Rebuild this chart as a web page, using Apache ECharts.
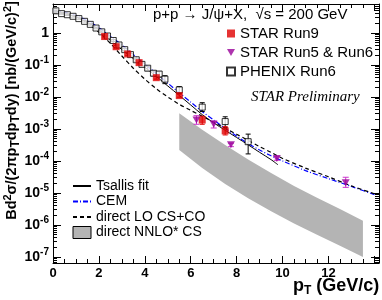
<!DOCTYPE html>
<html><head><meta charset="utf-8">
<script src="https://cdn.jsdelivr.net/npm/echarts@6/dist/echarts.min.js"></script>
<style>html,body{margin:0;padding:0;background:#fff}#c{width:382px;height:300px}</style>
</head><body><div id="c"></div>
<script>
// ---- data ----
const xTicks = [0, 2, 4, 6, 8, 10, 12];
const yTickExps = [0, -1, -2, -3, -4, -5, -6, -7];

const star9Pt = [2.25, 2.75, 3.25, 3.75, 4.5, 5.5, 6.5, 7.5];
const star9Val = [0.77, 0.37, 0.22, 0.118, 0.040, 0.011, 0.0019, 0.00087];
const star9Lo = [0.70, 0.335, 0.20, 0.107, 0.036, 0.0098, 0.0014, 0.00065];
const star9Hi = [0.84, 0.405, 0.24, 0.129, 0.044, 0.0122, 0.0025, 0.00118];

const star56Pt = [6.25, 7.0, 7.75, 9.75, 12.75];
const star56Val = [0.0019, 0.0014, 0.00032, 0.00012, 0.000021];
const star56Lo = [0.0014, 0.00107, 0.00028, 0.000105, 0.000015];
const star56Hi = [0.0026, 0.00178, 0.00036, 0.000135, 0.000031];

const phenixPt = [0.125, 0.375, 0.625, 0.875, 1.125, 1.375, 1.625, 1.875, 2.125, 2.375, 2.625, 2.875,
  3.125, 3.375, 3.625, 3.875, 4.125, 4.375, 4.625, 4.875, 5.5, 6.5, 7.5, 8.5];
const phenixVal = [4.9, 4.0, 3.7, 3.3, 2.8, 2.3, 1.85, 1.42, 1.08, 0.80, 0.58, 0.42,
  0.30, 0.21, 0.145, 0.104, 0.079, 0.055, 0.052, 0.036, 0.0166, 0.0048, 0.0017, 0.0004];
const phenixLo = [4.6, 3.8, 3.5, 3.1, 2.65, 2.18, 1.75, 1.34, 1.01, 0.75, 0.54, 0.39,
  0.275, 0.19, 0.13, 0.092, 0.068, 0.046, 0.042, 0.026, 0.013, 0.0035, 0.0011, 0.000166];
const phenixHi = [5.2, 4.2, 3.9, 3.5, 2.95, 2.42, 1.95, 1.50, 1.15, 0.85, 0.62, 0.45,
  0.325, 0.23, 0.16, 0.116, 0.09, 0.064, 0.062, 0.046, 0.021, 0.0066, 0.0024, 0.00069];

const tsallisPt = [0, 0.5, 1, 1.5, 2, 2.5, 3, 3.5, 4, 4.5, 5, 5.5, 6, 6.5, 7, 7.5, 8, 8.5, 9, 9.5, 9.8];
const tsallisVal = [4.37, 3.98, 3.16, 2.19, 1.26, 0.60, 0.30, 0.158, 0.085, 0.044, 0.022, 0.0112,
  0.0056, 0.0028, 0.00155, 0.00091, 0.00054, 0.00032, 0.000186, 0.00011, 0.000076];

const cemPt = [0, 0.5, 1, 1.5, 2, 2.5, 3, 3.5, 4, 4.5, 5, 5.5, 6, 6.5, 7, 7.5, 8, 8.5, 9, 9.5, 10, 11, 12, 13, 14];
const cemVal = [4.79, 4.37, 3.47, 2.40, 1.45, 0.79, 0.42, 0.21, 0.105, 0.054, 0.027, 0.0135, 0.0069,
  0.0035, 0.0019, 0.00105, 0.0006, 0.00035, 0.00022, 0.000145, 0.0001, 5.0e-5, 2.8e-5, 1.6e-5, 8.9e-6];

const loPt = [0, 0.5, 1, 1.5, 2, 2.5, 3, 3.5, 4, 4.5, 5, 5.5, 6, 6.5, 7, 7.5, 8, 8.5, 9, 9.5, 10, 11, 12, 13, 14];
const loVal = [4.57, 4.17, 3.16, 2.0, 1.05, 0.47, 0.19, 0.079, 0.036, 0.018, 0.01, 0.0059, 0.0038,
  0.0025, 0.00162, 0.00105, 0.00068, 0.00044, 0.00028, 0.000186, 0.00012, 6.0e-5, 3.2e-5, 1.66e-5, 9.5e-6];

const nnloPt = [5.5, 6.5, 7.5, 8.5, 9.5, 10.5, 11.5, 12.5, 13.5];
const nnloHi = [3.1e-3, 9.5e-4, 3.16e-4, 1.12e-4, 4.2e-5, 1.66e-5, 7.1e-6, 3.16e-6, 1.35e-6];
const nnloLo = [2.2e-4, 6.0e-5, 1.9e-5, 6.9e-6, 2.7e-6, 1.12e-6, 5.0e-7, 2.24e-7, 1.0e-7];

// ---- build chart ----
const FONT = 'Liberation Sans, Arial, Helvetica, sans-serif';
const zip = (a, b) => a.map((v, i) => [v, b[i]]);
const zip3 = (a, b, c) => a.map((v, i) => [v, b[i], c[i]]);

function errBars(color, cap) {
  return function (params, api) {
    const x = api.value(0), lo = api.value(1), hi = api.value(2);
    const p1 = api.coord([x, lo]), p2 = api.coord([x, hi]);
    const st = { stroke: color, lineWidth: 1 };
    return {
      type: 'group', children: [
        { type: 'line', shape: { x1: p1[0], y1: p1[1], x2: p2[0], y2: p2[1] }, style: st },
        { type: 'line', shape: { x1: p1[0] - cap, y1: p1[1], x2: p1[0] + cap, y2: p1[1] }, style: st },
        { type: 'line', shape: { x1: p2[0] - cap, y1: p2[1], x2: p2[0] + cap, y2: p2[1] }, style: st }
      ]
    };
  };
}

const yMin = 6.5e-8, yMax = 8, xMin = 0, xMax = 14.2;

function yLabel(v) {
  const e = Math.log10(v);
  const r = Math.round(e);
  if (Math.abs(e - r) > 1e-6 || yTickExps.indexOf(r) < 0) return '';
  if (r === 0) return '{b|1}';
  return '{b|10}{s|' + r + '}';
}
function xLabel(v) {
  return xTicks.indexOf(v) >= 0 ? String(v) : '';
}

const tickStyle = { color: '#000', width: 1 };
const baseX = {
  type: 'value', min: xMin, max: xMax, interval: 2,
  axisLine: { show: true, onZero: false, lineStyle: tickStyle },
  axisTick: { show: true, inside: true, length: 7, lineStyle: tickStyle },
  minorTick: { show: true, splitNumber: 4, length: 4, lineStyle: tickStyle },
  splitLine: { show: false }
};
const baseY = {
  type: 'log', logBase: 10, min: yMin, max: yMax,
  axisLine: { show: true, onZero: false, lineStyle: tickStyle },
  axisTick: { show: true, inside: true, length: 8, lineStyle: tickStyle },
  minorTick: { show: true, splitNumber: 9, length: 4, lineStyle: tickStyle },
  splitLine: { show: false }
};
const hideSym = { opacity: 0 };

const chart = echarts.init(document.getElementById('c'), null, { renderer: 'canvas' });
chart.setOption({
  animation: false,
  backgroundColor: '#fff',
  grid: { left: 53, right: 3, top: 4, bottom: 37, containLabel: false, outerBoundsMode: 'none' },
  xAxis: [
    Object.assign({}, baseX, {
      position: 'bottom',
      axisLabel: { show: true, formatter: xLabel, color: '#000', fontSize: 13, fontWeight: 'bold', fontFamily: FONT, margin: 4 },
      name: '{p|p}{t|T}{p| (GeV/c)}', nameLocation: 'end', nameGap: -86, nameMoveOverlap: false,
      nameTextStyle: {
        align: 'left', verticalAlign: 'top', padding: [13, 0, 0, 0],
        rich: {
          p: { fontSize: 18, fontWeight: 'bold', fontFamily: FONT, color: '#000' },
          t: { fontSize: 12, fontWeight: 'bold', fontFamily: FONT, color: '#000', padding: [9, 0, 0, 0] }
        }
      }
    }),
    Object.assign({}, baseX, { position: 'top', axisLabel: { show: false } })
  ],
  yAxis: [
    Object.assign({}, baseY, {
      position: 'left',
      axisLabel: {
        show: true, formatter: yLabel, margin: 4, color: '#000',
        rich: {
          b: { fontSize: 14, fontWeight: 'bold', fontFamily: FONT, color: '#000' },
          s: { fontSize: 10, fontWeight: 'bold', fontFamily: FONT, color: '#000', padding: [0, 0, 9, 0] }
        }
      },
      name: '{n|Bd}{u|2}{n|σ/(2πp}{d|T}{n|dp}{d|T}{n|dy) [nb/(GeV/c)}{u|2}{n|]}',
      nameLocation: 'middle', nameGap: 31, nameRotate: 90, nameMoveOverlap: false,
      nameTextStyle: {
        padding: [0, 0, 0, 46],
        rich: {
          n: { fontSize: 14.5, fontWeight: 'bold', fontFamily: FONT, color: '#000' },
          u: { fontSize: 11, fontWeight: 'bold', fontFamily: FONT, color: '#000', padding: [0, 0, 9, 0] },
          d: { fontSize: 12, fontWeight: 'bold', fontFamily: FONT, color: '#000', padding: [8, 0, 0, 0] }
        }
      }
    }),
    Object.assign({}, baseY, { position: 'right', axisLabel: { show: false } })
  ],
  legend: [
    {
      orient: 'vertical', left: 226, top: 26, padding: 0, itemWidth: 8, itemHeight: 8, itemGap: 4,
      textStyle: { fontSize: 15, lineHeight: 15, fontFamily: FONT, color: '#000' },
      selectedMode: false,
      data: ['STAR Run9', 'STAR Run5 & Run6', 'PHENIX Run6']
    },
    {
      orient: 'vertical', left: 72, top: 179, padding: 0, itemWidth: 18, itemHeight: 12, itemGap: 1.5,
      textStyle: { fontSize: 14, lineHeight: 13, fontFamily: FONT, color: '#000' },
      selectedMode: false,
      data: [
        { name: 'Tsallis fit', itemStyle: hideSym },
        { name: 'CEM', itemStyle: hideSym },
        { name: 'direct LO CS+CO', itemStyle: hideSym },
        { name: 'direct NNLO* CS', icon: 'rect', itemStyle: { color: '#b4b4b4', borderColor: '#000', borderWidth: 1 } }]
    }
  ],
  graphic: [
    { type: 'text', left: 153, top: 7, style: { text: 'p+p → J/ψ+X,  √s = 200 GeV', fontSize: 15, fontFamily: FONT, fill: '#000' } },
    { type: 'text', left: 251, top: 90, style: { text: 'STAR Preliminary', fontSize: 15, fontStyle: 'italic', fontFamily: 'Liberation Serif, Times New Roman, serif', fill: '#000' } }
  ],
  series: [
    {
      name: 'direct NNLO* CS', type: 'custom', z: 1, silent: true,
      data: [[nnloPt[0], nnloHi[0]]],
      itemStyle: { color: '#b4b4b4' },
      renderItem: function (params, api) {
        const pts = [];
        for (let i = 0; i < nnloPt.length; i++) pts.push(api.coord([nnloPt[i], nnloHi[i]]));
        for (let i = nnloPt.length - 1; i >= 0; i--) pts.push(api.coord([nnloPt[i], nnloLo[i]]));
        return { type: 'polygon', shape: { points: pts }, style: { fill: '#b4b4b4' } };
      }
    },
    {
      name: 'Tsallis fit', type: 'line', z: 3, data: zip(tsallisPt, tsallisVal), symbol: 'none', smooth: 0.3,
      lineStyle: { color: '#000', width: 1 }, itemStyle: { color: '#000' }
    },
    {
      name: 'CEM', type: 'line', z: 3, data: zip(cemPt, cemVal), symbol: 'none', smooth: 0.3,
      lineStyle: { color: '#0000ff', width: 1.2, type: [5, 2, 1, 2] }, itemStyle: { color: '#0000ff' }
    },
    {
      name: 'direct LO CS+CO', type: 'line', z: 3, data: zip(loPt, loVal), symbol: 'none', smooth: 0.3,
      lineStyle: { color: '#000', width: 1.2, type: [4, 3] }, itemStyle: { color: '#000' }
    },
    { name: 'phenixErr', type: 'custom', z: 4, data: zip3(phenixPt, phenixLo, phenixHi), renderItem: errBars('#000', 2.5), silent: true },
    { name: 'star9Err', type: 'custom', z: 4, data: zip3(star9Pt, star9Lo, star9Hi), renderItem: errBars('#e00000', 2.5), silent: true },
    { name: 'star56Err', type: 'custom', z: 4, data: zip3(star56Pt, star56Lo, star56Hi), renderItem: errBars('#cc33cc', 3), silent: true },
    {
      name: 'PHENIX Run6', type: 'scatter', z: 5, data: zip(phenixPt, phenixVal), symbol: 'rect', symbolSize: 6,
      itemStyle: { color: '#fff', borderColor: '#000', borderWidth: 1 }
    },
    {
      name: 'STAR Run9', type: 'scatter', z: 6, data: zip(star9Pt, star9Val), symbol: 'rect', symbolSize: 7,
      itemStyle: { color: '#e00000' }
    },
    {
      name: 'STAR Run5 & Run6', type: 'scatter', z: 6, data: zip(star56Pt, star56Val),
      symbol: 'path://M0,0L10,0L5,9Z', symbolSize: [8, 7],
      itemStyle: { color: '#990099' }
    }
  ]
});
</script>
</body></html>
